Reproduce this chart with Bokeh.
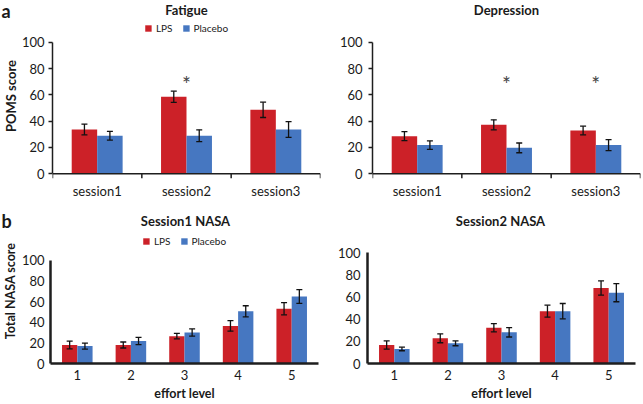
import math
from bokeh.plotting import figure
from bokeh.layouts import column, row
from bokeh.models import (ColumnDataSource, FactorRange, Range1d, LinearAxis, CategoricalAxis,
                          FixedTicker, Label, Legend, LegendItem, Span)
from bokeh.transform import dodge
from bokeh.core.properties import value
from bokeh.embed import file_html
from bokeh.resources import INLINE

# ---------------- data ----------------
sessions = ["session1", "session2", "session3"]
fatigue_lps = [33.7, 58.5, 48.6]
fatigue_lps_err = [4.1, 4.3, 5.8]
fatigue_placebo = [28.9, 28.9, 33.7]
fatigue_placebo_err = [3.3, 4.5, 6.0]
fatigue_sig = ["session2"]

depression_lps = [28.6, 37.2, 32.9]
depression_lps_err = [3.4, 3.8, 3.3]
depression_placebo = [21.8, 19.7, 21.8]
depression_placebo_err = [3.2, 3.7, 4.2]
depression_sig = ["session2", "session3"]

effort_levels = ["1", "2", "3", "4", "5"]
nasa1_lps = [17.9, 17.9, 26.5, 36.4, 53.0]
nasa1_lps_err = [3.8, 2.9, 2.6, 5.1, 5.9]
nasa1_placebo = [16.9, 21.7, 30.0, 50.5, 64.9]
nasa1_placebo_err = [2.9, 3.5, 3.5, 5.4, 6.7]

nasa2_lps = [16.7, 22.7, 32.2, 47.2, 68.1]
nasa2_lps_err = [3.7, 4.0, 3.7, 5.4, 6.4]
nasa2_placebo = [13.1, 18.2, 28.1, 47.2, 63.9]
nasa2_placebo_err = [1.6, 2.2, 4.2, 6.9, 8.2]

y_ticks = [0, 20, 40, 60, 80, 100]

# ---------------- style ----------------
RED = "#CC2128"
BLUE = "#4677C1"
AX = "#1e1e1e"
TXT = "#1a1a1a"
FONT = "Lato"
BAR_W = 0.285
STAR_Y = 68.5


def add_label(p, text, x, y, size, bold=True, angle=0.0, align="center", baseline="middle"):
    p.add_layout(Label(x=x, y=y, x_units="screen", y_units="screen", text=text, angle=angle,
                       text_align=align, text_baseline=baseline, text_font=FONT,
                       text_font_size=f"{size}px", text_font_style="bold" if bold else "normal",
                       text_color=TXT))


def side_panel(width, height, letter, letter_from_top, ylabel, ylabel_from_top, ylabel_size):
    # the frame covers the whole panel: x 0..width px, y 0..height px (y up)
    p = figure(x_range=Range1d(0, width), y_range=Range1d(0, height), width=width, height=height,
               title=None, toolbar_location=None, output_backend="svg",
               x_axis_location=None, y_axis_location=None, min_border=0)
    p.outline_line_color = None
    p.xgrid.visible = False
    p.ygrid.visible = False
    p.text(x=[1], y=[height - letter_from_top], text=[letter], text_align="left",
           text_baseline="middle", text_font=value(FONT), text_font_size=value("18px"),
           text_font_style="bold", text_color=TXT)
    p.text(x=[10], y=[height - ylabel_from_top], text=[ylabel], angle=math.pi / 2,
           text_align="center", text_baseline="middle", text_font=value(FONT),
           text_font_size=value(ylabel_size), text_font_style="bold", text_color=TXT)
    return p


def make_panel(cats, lps, lps_err, plc, plc_err, sig, width, height, bl, br, bb, y_start, y_end,
               thin, y_standoff, cat_standoff, legend_margin=None, xlabel=None):
    p = figure(x_range=FactorRange(factors=cats), y_range=Range1d(y_start, y_end),
               width=width, height=height, title=None, toolbar_location=None,
               output_backend="svg", x_axis_location=None, y_axis_location=None)
    p.min_border_left = bl
    p.min_border_right = br
    p.min_border_top = 0
    p.min_border_bottom = bb
    p.outline_line_color = None
    p.xgrid.visible = False
    p.ygrid.visible = False

    src = ColumnDataSource(dict(
        cat=cats, lps=lps, plc=plc,
        lps_lo=[v - e for v, e in zip(lps, lps_err)], lps_hi=[v + e for v, e in zip(lps, lps_err)],
        plc_lo=[v - e for v, e in zip(plc, plc_err)], plc_hi=[v + e for v, e in zip(plc, plc_err)],
    ))
    xl = dodge("cat", -BAR_W / 2, range=p.x_range)
    xp = dodge("cat", BAR_W / 2, range=p.x_range)
    r1 = p.vbar(x=xl, top="lps", width=BAR_W, source=src, fill_color=RED, line_color=None)
    r2 = p.vbar(x=xp, top="plc", width=BAR_W, source=src, fill_color=BLUE, line_color=None)
    for x, lo, hi in ((xl, "lps_lo", "lps_hi"), (xp, "plc_lo", "plc_hi")):
        p.segment(x0=x, y0=lo, x1=x, y1=hi, source=src, line_color="#111111", line_width=1.3)
        p.scatter(x=x, y=lo, marker="dash", size=6, source=src, line_color="#111111", line_width=1.3)
        p.scatter(x=x, y=hi, marker="dash", size=6, source=src, line_color="#111111", line_width=1.3)

    if sig:
        ssrc = ColumnDataSource(dict(cat=sig, y=[STAR_Y] * len(sig), t=["*"] * len(sig)))
        p.text(x="cat", y="y", text="t", source=ssrc, text_align="center", text_baseline="middle",
               text_font=value(FONT), text_font_size=value("21px"), text_color="#444444")

    lw = 1.5 if thin else 2.5
    yax = LinearAxis(ticker=FixedTicker(ticks=y_ticks, minor_ticks=[]), bounds=(0, 100),
                     axis_line_color=AX, axis_line_width=lw,
                     major_tick_line_color=AX, major_tick_line_width=1.5,
                     major_tick_in=0, major_tick_out=4 if thin else 0,
                     minor_tick_in=0, minor_tick_out=0,
                     major_label_standoff=y_standoff, major_label_text_font=FONT,
                     major_label_text_font_size="13px", major_label_text_color=TXT)
    p.add_layout(yax, "left")

    cax = CategoricalAxis(axis_line_color=None if thin else AX, axis_line_width=lw,
                          major_tick_line_color=None, major_tick_in=0, major_tick_out=0,
                          major_label_standoff=cat_standoff, major_label_text_font=FONT,
                          major_label_text_font_size="13px", major_label_text_color=TXT)
    if xlabel:
        cax.axis_label = xlabel
        cax.axis_label_standoff = 3
        cax.axis_label_text_font = FONT
        cax.axis_label_text_font_style = "bold"
        cax.axis_label_text_font_size = "12.5px"
        cax.axis_label_text_color = TXT
    p.add_layout(cax, "below")

    if thin:
        # x axis line at zero with tick marks on the category boundaries
        p.add_layout(Span(location=0, dimension="width", line_color=AX, line_width=lw))
        tsrc = ColumnDataSource(dict(cat=cats, y0=[0] * len(cats), y1=[y_start] * len(cats)))
        p.segment(x0=dodge("cat", -0.5, range=p.x_range), y0="y0",
                  x1=dodge("cat", -0.5, range=p.x_range), y1="y1",
                  source=tsrc, line_color=AX, line_width=1.5)
        lsrc = ColumnDataSource(dict(cat=cats[-1:], y0=[0], y1=[y_start]))
        p.segment(x0=dodge("cat", 0.5, range=p.x_range), y0="y0",
                  x1=dodge("cat", 0.5, range=p.x_range), y1="y1",
                  source=lsrc, line_color=AX, line_width=1.5)

    if legend_margin is not None:
        leg = Legend(items=[LegendItem(label="LPS", renderers=[r1]),
                            LegendItem(label="Placebo", renderers=[r2])],
                     orientation="horizontal", location="top_center", margin=legend_margin,
                     padding=0, spacing=9, glyph_width=8, glyph_height=8, label_standoff=4,
                     label_height=12, label_width=1, border_line_color=None,
                     background_fill_alpha=0, label_text_font=FONT, label_text_font_size="10px",
                     label_text_color=TXT)
        p.add_layout(leg)
    return p


# ---- top row: page y 0..205; frame y 0..178; value 0 at y 173.3, 100 at y 41.7
TOP_H, TOP_BB = 205, 27
TOP_FH = TOP_H - TOP_BB
TOP_SCALE = 1.316
TOP_Y0 = -(TOP_FH - 173.3) / TOP_SCALE
TOP_Y1 = 173.3 / TOP_SCALE
p0 = side_panel(18, TOP_H, "a", 12, "POMS score", 110, "13px")
p1 = make_panel(sessions, fatigue_lps, fatigue_lps_err, fatigue_placebo, fatigue_placebo_err,
                fatigue_sig, 312, TOP_H, 34, 10, TOP_BB, TOP_Y0, TOP_Y1, True, 4, 4,
                legend_margin=22)
p2 = make_panel(sessions, depression_lps, depression_lps_err, depression_placebo,
                depression_placebo_err, depression_sig, 312, TOP_H, 42, 2, TOP_BB, TOP_Y0, TOP_Y1,
                True, 6, 4)

# ---- bottom row: page y 205..403; frame y 205..365
BOT_H, BOT_BB = 198, 38
BOT_FH = BOT_H - BOT_BB
p00 = side_panel(18, BOT_H, "b", 19, "Total NASA score", 107, "12.5px")
p3 = make_panel(effort_levels, nasa1_lps, nasa1_lps_err, nasa1_placebo, nasa1_placebo_err, [],
                312, BOT_H, 30, 12, BOT_BB, 0, BOT_FH / 1.046, False, 6, 6, legend_margin=30,
                xlabel="effort level")
p4 = make_panel(effort_levels, nasa2_lps, nasa2_lps_err, nasa2_placebo, nasa2_placebo_err, [],
                312, BOT_H, 37, 7, BOT_BB, 0, BOT_FH / 1.123, False, 7, 6,
                xlabel="effort level")

# ---- panel titles (screen offsets from each frame's bottom-left corner)
add_label(p1, "Fatigue", 134, TOP_FH - 9, 13)
add_label(p2, "Depression", 134, TOP_FH - 9, 13)
add_label(p3, "Session1 NASA", 135, BOT_FH - 17, 13)
add_label(p4, "Session2 NASA", 133, BOT_FH - 17, 13)

layout = column(row(p0, p1, p2), row(p00, p3, p4))
open("out.html", "w").write(file_html(layout, INLINE))
